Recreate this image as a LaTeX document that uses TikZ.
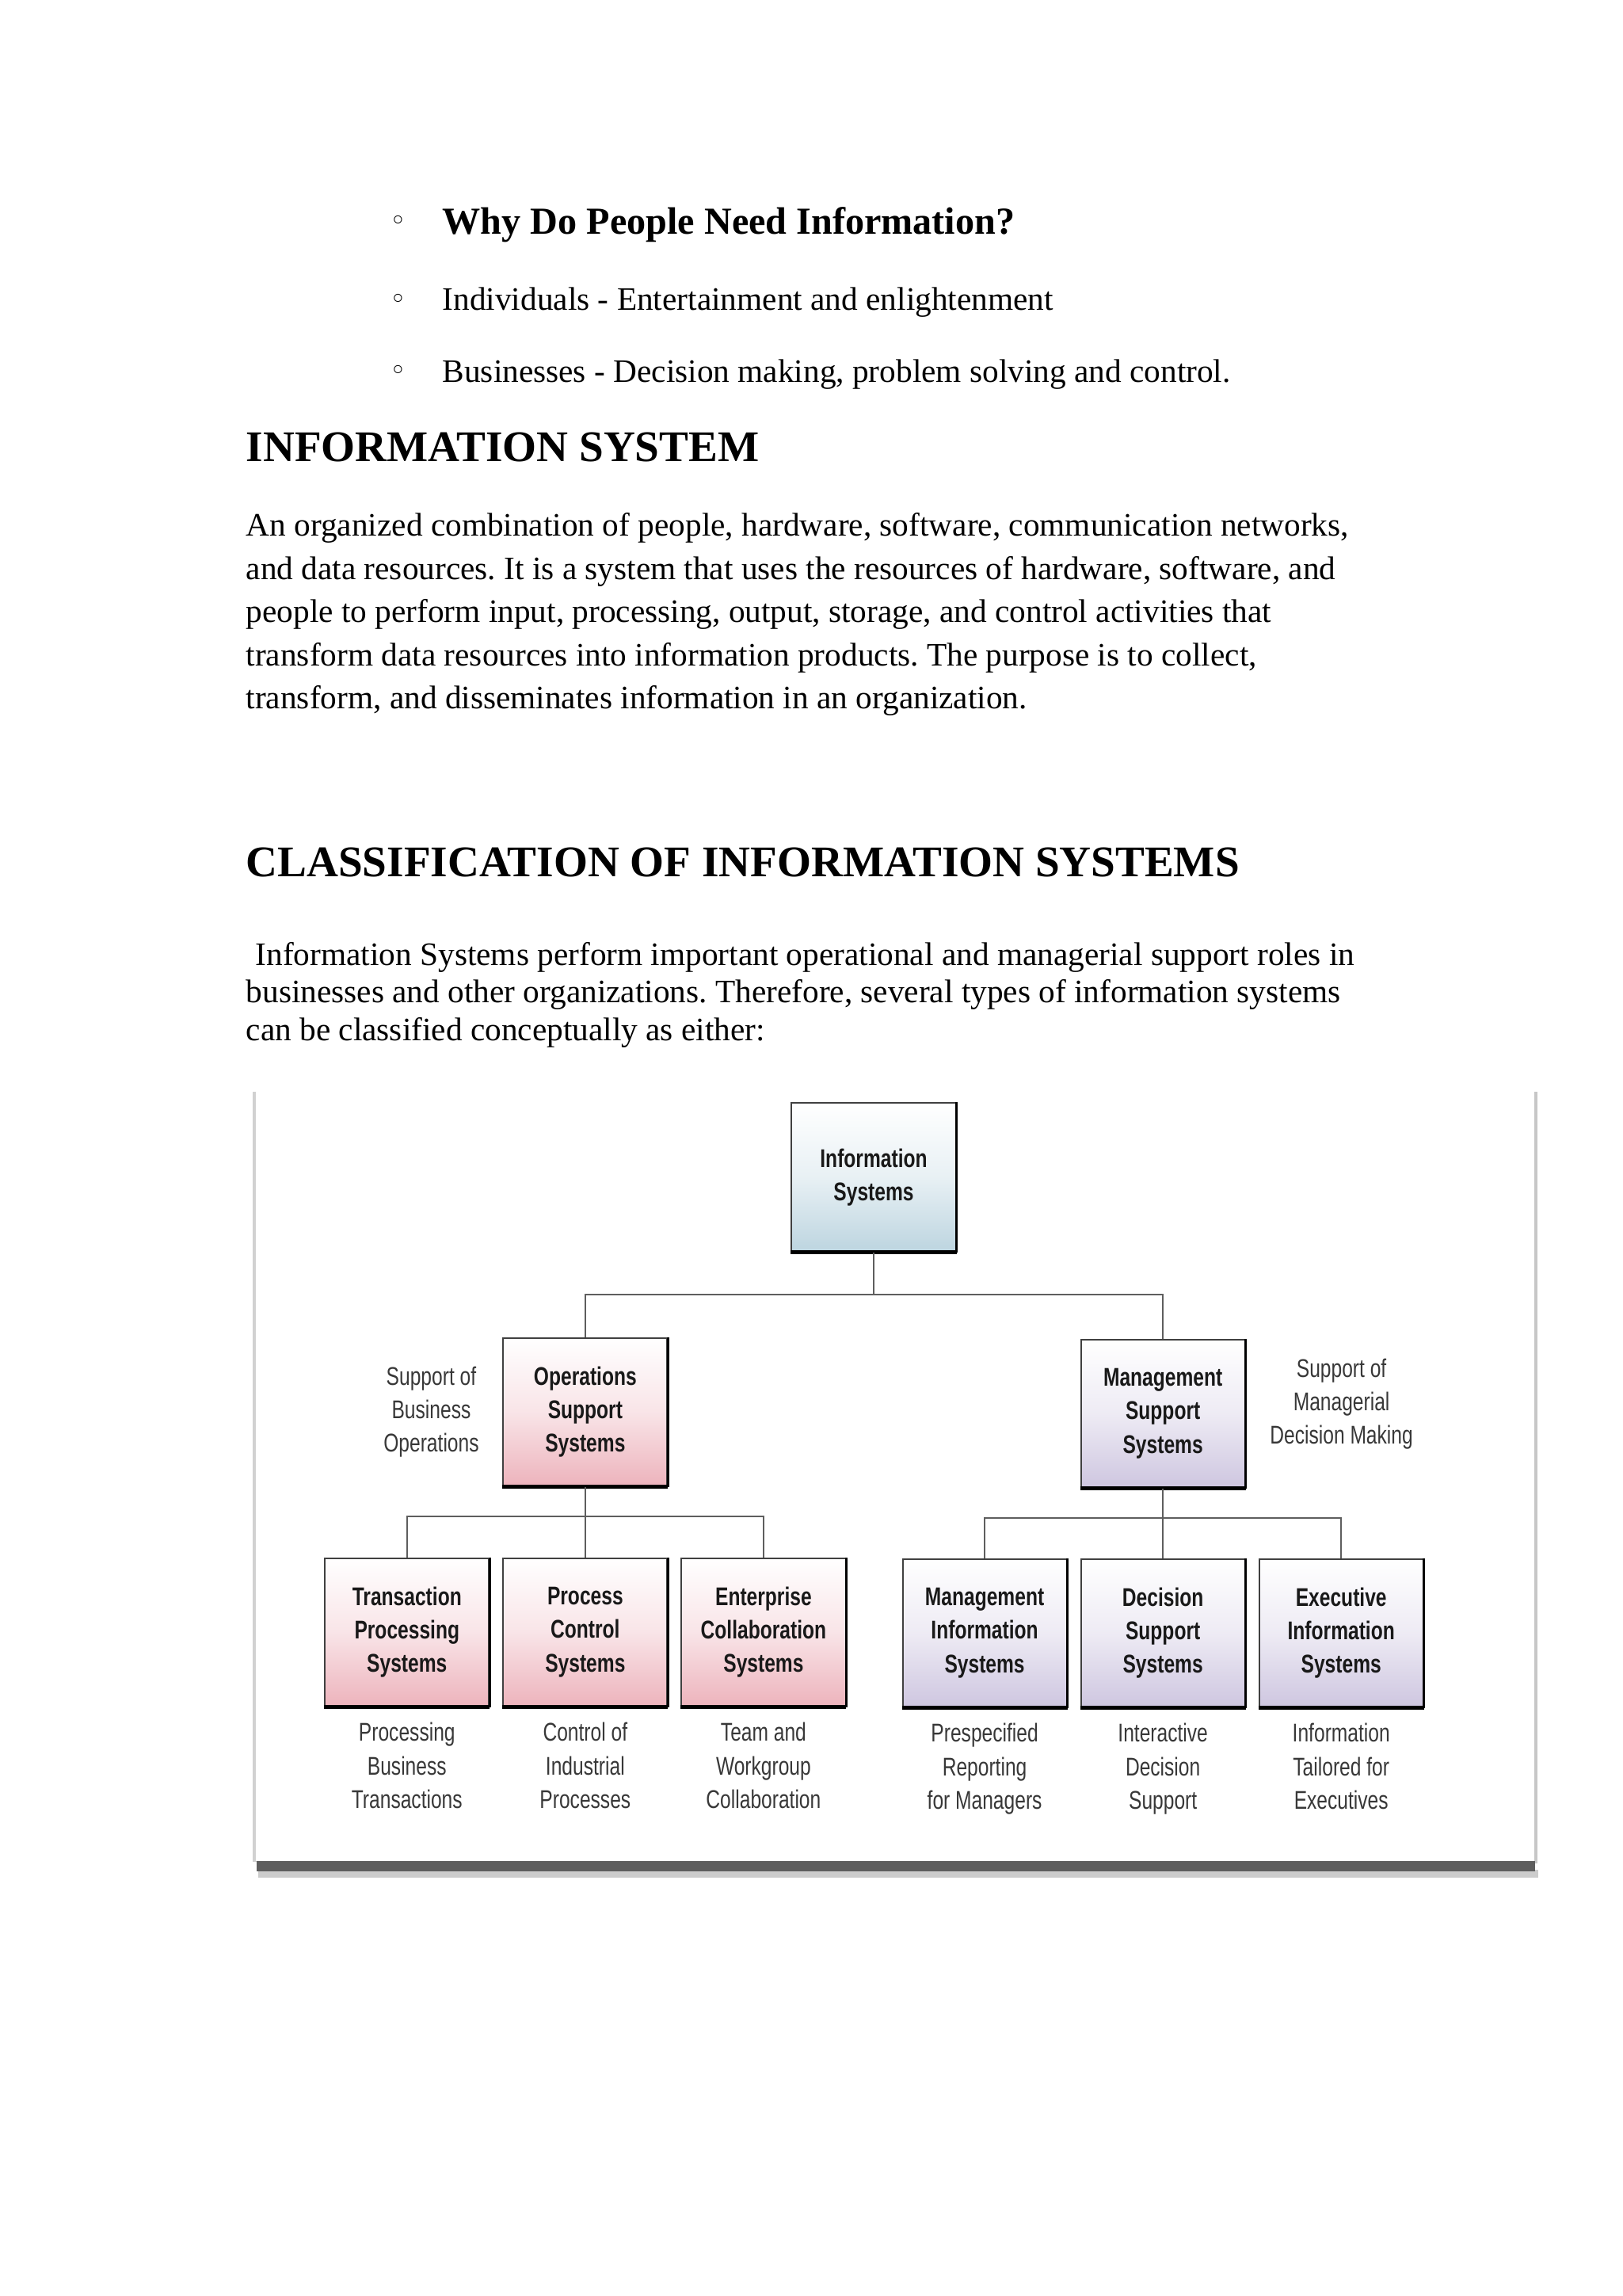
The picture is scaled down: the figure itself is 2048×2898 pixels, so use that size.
\documentclass[tikz,border=0pt]{standalone}
\usepackage{fontspec}
\setmainfont{Liberation Serif}
\newfontfamily\chartfont[FakeStretch=0.76]{Liberation Sans}
\newfontfamily\symfont{DejaVu Sans}
\usetikzlibrary{positioning}
\frenchspacing

\definecolor{opspink}{HTML}{EDB3BC}
\definecolor{mgmtlilac}{HTML}{CEC6E0}
\definecolor{infoblue}{HTML}{BDD5E0}
\definecolor{linkgrey}{HTML}{5E5E5E}

\begin{document}
\begin{tikzpicture}[x=0.01cm, y=-0.01cm, node distance=8mm and 10mm,
  sysbox/.style={draw=black!75, line width=0.55pt, minimum width=2.07cm, minimum height=1.87cm, inner sep=0pt, align=center,
    font=\chartfont\fontsize{9.2}{12}\selectfont\bfseries, text=black!90, top color=white, bottom color=#1, middle color=#1!35},
  sysbox/.default=opspink,
  note/.style={align=center, inner sep=0pt, font=\chartfont\fontsize{9.2}{12}\selectfont, text=black!78},
  link/.style={draw=linkgrey, line width=0.55pt},
  bullet/.style={inner sep=0pt, font=\symfont\fontsize{10}{10}\selectfont},
  line/.style={anchor=base west, inner sep=0pt, font=\fontsize{11.75}{14}\selectfont},
  head/.style={anchor=base west, inner sep=0pt, font=\bfseries\fontsize{15.7}{18}\selectfont},
  body/.style={anchor=north west, inner sep=0pt, align=left, font=\fontsize{11.75}{15.5}\selectfont}]
  \fill[white] (0,0) rectangle (2048,2898);

  % question list
  \node[bullet] (b1) at (503,281) {◦};
  \node[bullet] (b2) at (503,380) {◦};
  \node[bullet] (b3) at (503,470) {◦};
  \node[line, font=\bfseries\fontsize{13.7}{16}\selectfont] (why) at (558,296) {Why Do People Need Information?};
  \node[line] (indiv) at (558,392) {Individuals - Entertainment and enlightenment};
  \node[line] (busi) at (558,483) {Businesses - Decision making, problem solving and control.};

  % text blocks
  \node[head] (head1) at (310,583) {INFORMATION SYSTEM};
  \node[body] (para1) at (310,647) {An organized combination of people, hardware, software, communication networks,\\
    and data resources. It is a system that uses the resources of hardware, software, and\\
    people to perform input, processing, output, storage, and control activities that\\
    transform data resources into information products. The purpose is to collect,\\
    transform, and disseminates information in an organization.};
  \node[head] (head2) at (310,1106) {CLASSIFICATION OF INFORMATION SYSTEMS};
  \node[body, font=\fontsize{11.75}{13.4}\selectfont] (para2) at (310,1189) {\hspace*{3.4pt}Information Systems perform important operational and managerial support roles in\\
    businesses and other organizations. Therefore, several types of information systems\\
    can be classified conceptually as either:};

  % picture frame
  \fill[black!18] (319,1378) rectangle (324,2350);
  \fill[black!22] (1936,1378) rectangle (1941,2352);
  \fill[black!20] (326,2360) rectangle (1942,2370);
  \fill[black!63] (324,2349) rectangle (1938,2362);
  \fill[white] (323,1377) rectangle (1937,2349);

  % chart
  \node[sysbox=infoblue] (info) at (1103,1486) {Information\\Systems};
  \node[sysbox=opspink, below left=1.07cm and 1.55cm of info] (oss) {Operations\\Support\\Systems};
  \node[sysbox=mgmtlilac, below right=1.09cm and 1.56cm of info] (mss) {Management\\Support\\Systems};
  \node[sysbox=opspink, below=0.89cm of oss] (pcs) {Process\\Control\\Systems};
  \node[sysbox=opspink, left=0.16cm of pcs] (tps) {Transaction\\Processing\\Systems};
  \node[sysbox=opspink, right=0.16cm of pcs] (ecs) {Enterprise\\Collaboration\\Systems};
  \node[sysbox=mgmtlilac, below=0.88cm of mss] (dss) {Decision\\Support\\Systems};
  \node[sysbox=mgmtlilac, left=0.16cm of dss] (mis) {Management\\Information\\Systems};
  \node[sysbox=mgmtlilac, right=0.16cm of dss] (eis) {Executive\\Information\\Systems};
  \foreach \n in {info,oss,mss,tps,pcs,ecs,mis,dss,eis} {
    \draw[line width=1.4pt] (\n.south west) -- (\n.south east);
    \draw[line width=0.85pt] (\n.south east) -- (\n.north east);
  }

  \node[note, left=2.9mm of oss] (ossnote) {Support of\\Business\\Operations};
  \node[note, right=3mm of mss, yshift=1.2mm] (mssnote) {Support of\\Managerial\\Decision Making};
  \node[note, below=1.9mm of tps] (tpsnote) {Processing\\Business\\Transactions};
  \node[note, below=1.9mm of pcs] (pcsnote) {Control of\\Industrial\\Processes};
  \node[note, below=1.9mm of ecs] (ecsnote) {Team and\\Workgroup\\Collaboration};
  \node[note, below=1.9mm of mis] (misnote) {Prespecified\\Reporting\\for Managers};
  \node[note, below=1.9mm of dss] (dssnote) {Interactive\\Decision\\Support};
  \node[note, below=1.9mm of eis] (eisnote) {Information\\Tailored for\\Executives};

  \coordinate[below=5.3mm of info] (topbus);
  \coordinate[below=3.7mm of oss] (opsbus);
  \coordinate[below=3.7mm of mss] (mgmtbus);
  \draw[link] (info) -- (topbus);
  \draw[link] (topbus) -| (oss);
  \draw[link] (topbus) -| (mss);
  \draw[link] (oss) -- (opsbus) -- (pcs);
  \draw[link] (opsbus) -| (tps);
  \draw[link] (opsbus) -| (ecs);
  \draw[link] (mss) -- (mgmtbus) -- (dss);
  \draw[link] (mgmtbus) -| (mis);
  \draw[link] (mgmtbus) -| (eis);
\end{tikzpicture}
\end{document}
